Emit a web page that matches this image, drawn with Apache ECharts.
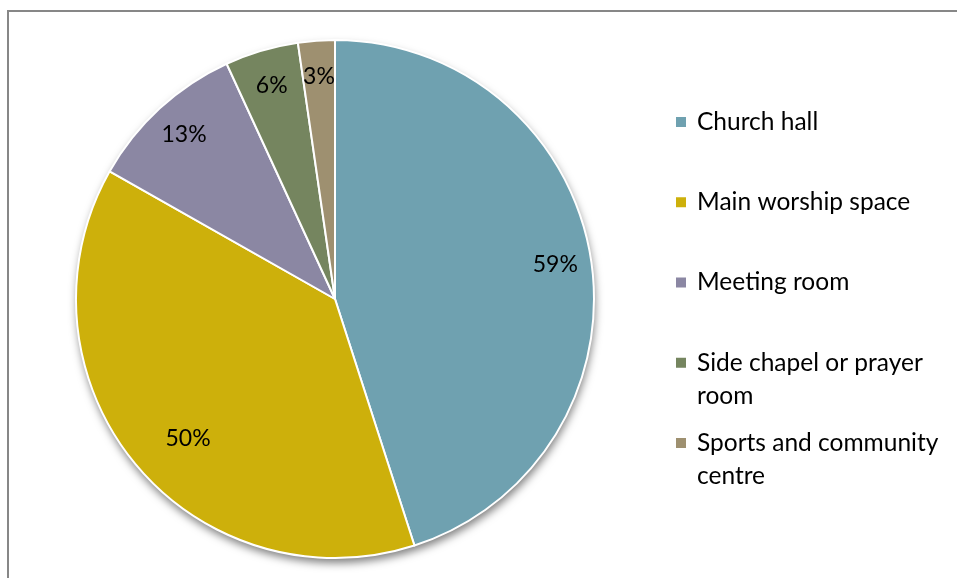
<!DOCTYPE html>
<html>
<head>
<meta charset="utf-8">
<title>Church spaces used</title>
<script src="https://cdn.jsdelivr.net/npm/echarts@6/dist/echarts.min.js"></script>
<style>
  html, body { margin: 0; padding: 0; background: #fff; }
  #chart { width: 957px; height: 578px; }
</style>
</head>
<body>
<div id="chart"></div>
<script>
// Spaces used, share of respondents (%)
const categories = ['Church hall', 'Main worship space', 'Meeting room', 'Side chapel or prayer room', 'Sports and community centre'];
const values = [59, 50, 13, 6, 3];
// Legend text as it wraps in the key
const legendLines = ['Church hall', 'Main worship space', 'Meeting room', 'Side chapel or prayer\nroom', 'Sports and community\ncentre'];
const palette = ['#6FA1B0', '#CDB00B', '#8B87A3', '#75855F', '#9E9070'];

const FONT = 'Lato, "Open Sans", sans-serif';
const CX = 335, CY = 299, R = 259;
const LABEL_R = 220;          // radius where the percentage labels sit
const LEGEND_LEFT = 676, LEGEND_FIRST = 122, LEGEND_STEP = 80.25, LINE_H = 33;

const chart = echarts.init(document.getElementById('chart'), null, { renderer: 'canvas' });

const total = values.reduce((a, b) => a + b, 0);

const pieData = categories.map((name, i) => ({
  name: name,
  value: values[i],
  itemStyle: { color: palette[i] }
}));

// Labels ride on a transparent ring so that "inside" lands at LABEL_R
const labelData = categories.map((name, i) => {
  const item = { name: name, value: values[i] };
  if (i === 1) item.label = { offset: [26, -1] };
  return item;
});

// One legend block per entry so each entry starts on an even step
const legends = categories.map((name, i) => {
  const lines = legendLines[i].split('\n');
  const pad = lines.length - 1;
  const firstCenter = LEGEND_FIRST + i * LEGEND_STEP;
  return {
    data: [name],
    orient: 'vertical',
    left: LEGEND_LEFT,
    top: firstCenter - LINE_H / 2 - pad * LINE_H,
    padding: 0,
    icon: 'rect',
    itemWidth: 10,
    itemHeight: 10,
    itemStyle: { borderWidth: 0 },
    selectedMode: false,
    formatter: () => ' \n'.repeat(pad) + legendLines[i],
    textStyle: {
      fontFamily: FONT,
      fontSize: 24.5,
      color: '#000',
      lineHeight: LINE_H,
      padding: [0, 0, 0, 6]
    }
  };
});

chart.setOption({
  backgroundColor: '#fff',
  animation: false,
  color: palette,
  graphic: [{
    type: 'rect',
    silent: true,
    shape: { x: 8, y: 11, width: 1200, height: 1200 },
    style: { fill: 'none', stroke: '#878787', lineWidth: 2 }
  }],
  legend: legends,
  series: [
    {
      // soft drop shadow under the whole pie
      type: 'pie',
      silent: true,
      center: [CX, CY],
      radius: [0, R],
      z: 1,
      label: { show: false },
      labelLine: { show: false },
      itemStyle: {
        color: '#fff',
        shadowBlur: 9,
        shadowOffsetX: 1,
        shadowOffsetY: 5,
        shadowColor: 'rgba(0,0,0,0.5)'
      },
      data: [{ name: 'all', value: total }]
    },
    {
      type: 'pie',
      center: [CX, CY],
      radius: [0, R],
      startAngle: 90,
      clockwise: true,
      z: 2,
      label: { show: false },
      labelLine: { show: false },
      itemStyle: { borderColor: '#fff', borderWidth: 2 },
      emphasis: { disabled: true },
      data: pieData
    },
    {
      type: 'pie',
      silent: true,
      center: [CX, CY],
      radius: [2 * LABEL_R - R, R],
      startAngle: 90,
      clockwise: true,
      z: 3,
      legendHoverLink: false,
      itemStyle: { color: 'rgba(0,0,0,0)' },
      labelLine: { show: false },
      label: {
        show: true,
        position: 'inside',
        rotate: 0,
        formatter: p => p.value + '%',
        fontFamily: FONT,
        fontSize: 23,
        color: '#000'
      },
      data: labelData
    }
  ]
});
</script>
</body>
</html>
